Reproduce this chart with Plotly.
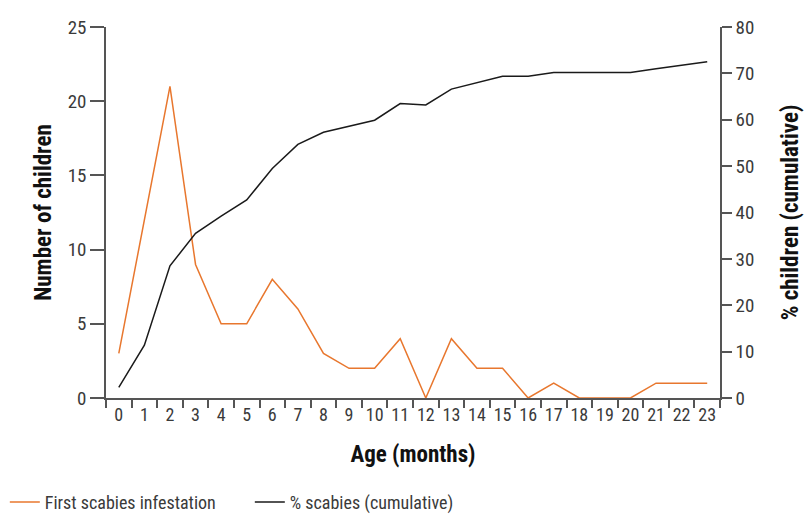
import plotly.graph_objects as go

ages = [str(i) for i in range(24)]
first_infestation = [3, 12, 21, 9, 5, 5, 8, 6, 3, 2, 2, 4, 0, 4, 2, 2, 0, 1, 0, 0, 0, 1, 1, 1]
cumulative_pct = [2.3, 11.4, 28.5, 35.5, 39.2, 42.7, 49.5, 54.7, 57.3, 58.6, 59.9, 63.5,
                  63.2, 66.6, 68.0, 69.4, 69.4, 70.2, 70.2, 70.2, 70.2, 71.0, 71.7, 72.5]

FONT = "Liberation Sans Narrow, Arial Narrow, Roboto Condensed, Liberation Sans, sans-serif"
AX = "#555555"

fig = go.Figure()
fig.add_trace(go.Scatter(x=ages, y=first_infestation, mode="lines", name="First scabies infestation",
                         line=dict(color="#E8772E", width=1.5)))
fig.add_trace(go.Scatter(x=ages, y=cumulative_pct, mode="lines", name="% scabies (cumulative)",
                         line=dict(color="#1a1a1a", width=1.5), yaxis="y2"))

fig.update_layout(
    width=804, height=514,
    margin=dict(l=106, r=84, t=27, b=116),
    plot_bgcolor="white", paper_bgcolor="white",
    font=dict(family=FONT, size=19, color="#3a3a3a"),
    showlegend=True,
    legend=dict(orientation="h", xref="container", yref="container", x=0.006, y=0.023,
                xanchor="left", yanchor="middle", font=dict(size=18, color="#3a3a3a"),
                itemwidth=30, tracegroupgap=0, entrywidth=200),
    xaxis=dict(type="category", range=[-0.5, 23.5], showline=True, linecolor=AX, linewidth=1.5,
               ticks="outside", tickson="boundaries", ticklen=8, tickcolor=AX, tickwidth=1.5,
               tickangle=0, tickfont=dict(size=18), automargin=False,
               showgrid=False, zeroline=False,
               title=dict(text="<b>Age (months)</b>", font=dict(size=23, color="#111111"), standoff=22)),
    yaxis=dict(range=[0, 25], tickvals=[0, 5, 10, 15, 20, 25], showline=True, linecolor=AX, linewidth=1.5,
               ticks="outside", ticklen=14, tickcolor=AX, tickwidth=1.5, showgrid=False, zeroline=False,
               automargin=False,
               title=dict(text="<b>Number of children</b>", font=dict(size=23, color="#111111"), standoff=10)),
    yaxis2=dict(range=[0, 80], tickvals=[0, 10, 20, 30, 40, 50, 60, 70, 80], overlaying="y", side="right",
                showline=True, linecolor=AX, linewidth=1.5, ticks="outside", ticklen=10, tickcolor=AX,
                tickwidth=1.5, showgrid=False, zeroline=False, automargin=False,
                title=dict(text="<b>% children (cumulative)</b>", font=dict(size=23, color="#111111"), standoff=30)),
)

fig.write_html("out.html", post_script="document.body.style.margin='0';",
               config={"displayModeBar": False})
